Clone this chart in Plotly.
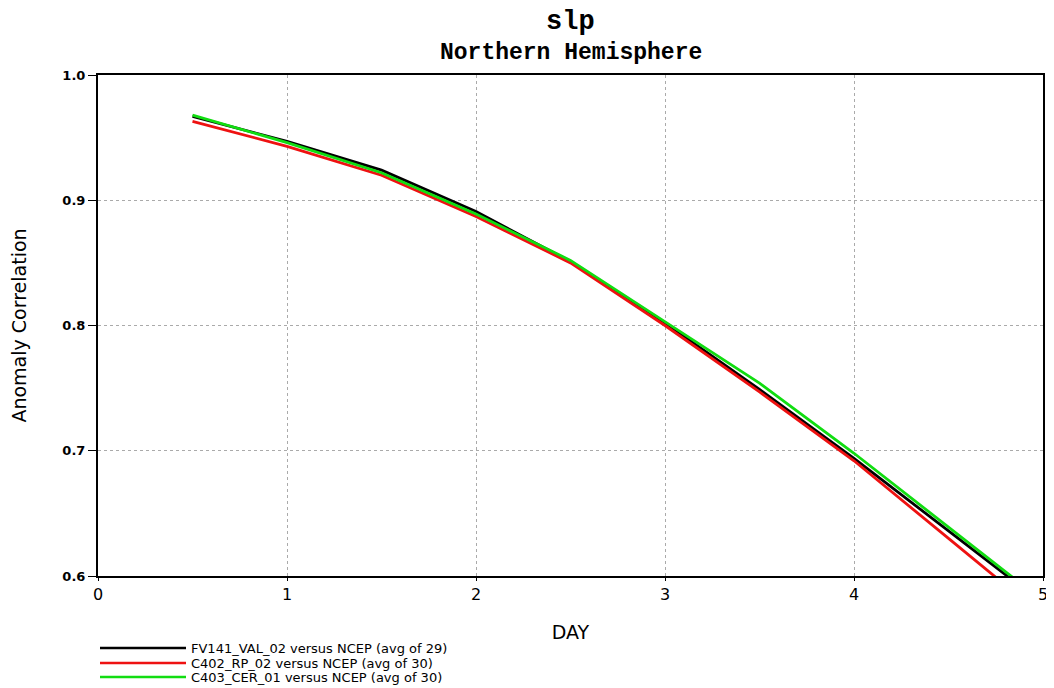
import plotly.graph_objects as go

days = [0.5, 1.0, 1.5, 2.0, 2.5, 3.0, 3.5, 4.0, 4.5, 5.0]
fv141 = [0.967, 0.947, 0.924, 0.891, 0.851, 0.802, 0.749, 0.694, 0.636, 0.578]
c402 = [0.963, 0.943, 0.920, 0.887, 0.850, 0.800, 0.747, 0.692, 0.630, 0.568]
c403 = [0.968, 0.946, 0.922, 0.889, 0.852, 0.803, 0.754, 0.698, 0.639, 0.580]

series_names = [
    "FV141_VAL_02 versus NCEP (avg of 29)",
    "C402_RP_02 versus NCEP (avg of 30)",
    "C403_CER_01 versus NCEP (avg of 30)",
]
series_values = [fv141, c402, c403]
colors = ["#000000", "#ee1111", "#11dd11"]

x_ticks = [0, 1, 2, 3, 4, 5]
y_ticks = [0.6, 0.7, 0.8, 0.9, 1.0]
y_tick_labels = ["0.6", "0.7", "0.8", "0.9", "1.0"]

fig = go.Figure()
for name, vals, col in zip(series_names, series_values, colors):
    fig.add_trace(go.Scatter(x=days, y=vals, mode="lines", name=name,
                             line=dict(color=col, width=2.8), showlegend=False))

# page body adds an 8px offset; layout numbers below are in reference-screen pixels
OFF = 8
W, H = 1054 - OFF, 688 - OFF
plot_l, plot_r, plot_t, plot_b = 98, 1043, 75, 576
ml = plot_l - OFF
mr = (W + OFF) - plot_r
mt = plot_t - OFF
mb = (H + OFF) - plot_b

fig.update_layout(
    width=W, height=H,
    margin=dict(l=ml, r=mr, t=mt, b=mb, autoexpand=False),
    plot_bgcolor="white", paper_bgcolor="white",
    font=dict(family="DejaVu Sans", color="black"),
    xaxis=dict(range=[0, 5], tickvals=x_ticks, ticktext=[str(t) for t in x_ticks],
               showgrid=True, gridcolor="#aaaaaa", griddash="dot", gridwidth=1,
               showline=True, linecolor="black", linewidth=2, mirror=True,
               ticks="outside", ticklen=3, tickwidth=1, tickcolor="black",
               tickfont=dict(size=16, family="DejaVu Sans"), zeroline=False,
               automargin=False,
               title=dict(text="DAY", font=dict(size=19), standoff=22)),
    yaxis=dict(range=[0.6, 1.0], tickvals=y_ticks, ticktext=y_tick_labels,
               showgrid=True, gridcolor="#aaaaaa", griddash="dot", gridwidth=1,
               showline=True, linecolor="black", linewidth=2, mirror=True,
               ticks="outside", ticklen=8, tickwidth=1, tickcolor="black",
               tickfont=dict(size=13, family="DejaVu Sans", weight="bold"), zeroline=False,
               automargin=False,
               title=dict(text="Anomaly Correlation", font=dict(size=19), standoff=38)),
)

# Titles
fig.add_annotation(text="<b>slp</b>", xref="paper", yref="paper", x=0.5, y=1,
                   yshift=plot_t - 22, showarrow=False, xanchor="center", yanchor="middle",
                   font=dict(family="Liberation Mono", size=27, color="black"))
fig.add_annotation(text="<b>Northern Hemisphere</b>", xref="paper", yref="paper", x=0.5, y=1,
                   yshift=plot_t - 53, showarrow=False, xanchor="center", yanchor="middle",
                   font=dict(family="Liberation Mono", size=23, color="black"))

# Manual legend (positions in reference-screen pixels)
pw = plot_r - plot_l
ph = plot_b - plot_t
def px_to_paper_x(px):
    return (px - plot_l) / pw
def px_to_paper_y(py):
    return (plot_b - py) / ph

legend_rows = [648, 663, 677]
for name, col, ry in zip(series_names, colors, legend_rows):
    fig.add_shape(type="line", xref="paper", yref="paper",
                  x0=px_to_paper_x(100), x1=px_to_paper_x(186),
                  y0=px_to_paper_y(ry), y1=px_to_paper_y(ry),
                  line=dict(color=col, width=2.5))
    fig.add_annotation(text=name, xref="paper", yref="paper",
                       x=px_to_paper_x(189), y=px_to_paper_y(ry),
                       showarrow=False, xanchor="left", yanchor="middle",
                       font=dict(family="DejaVu Sans", size=13, color="black"))

fig.write_html("out.html")
